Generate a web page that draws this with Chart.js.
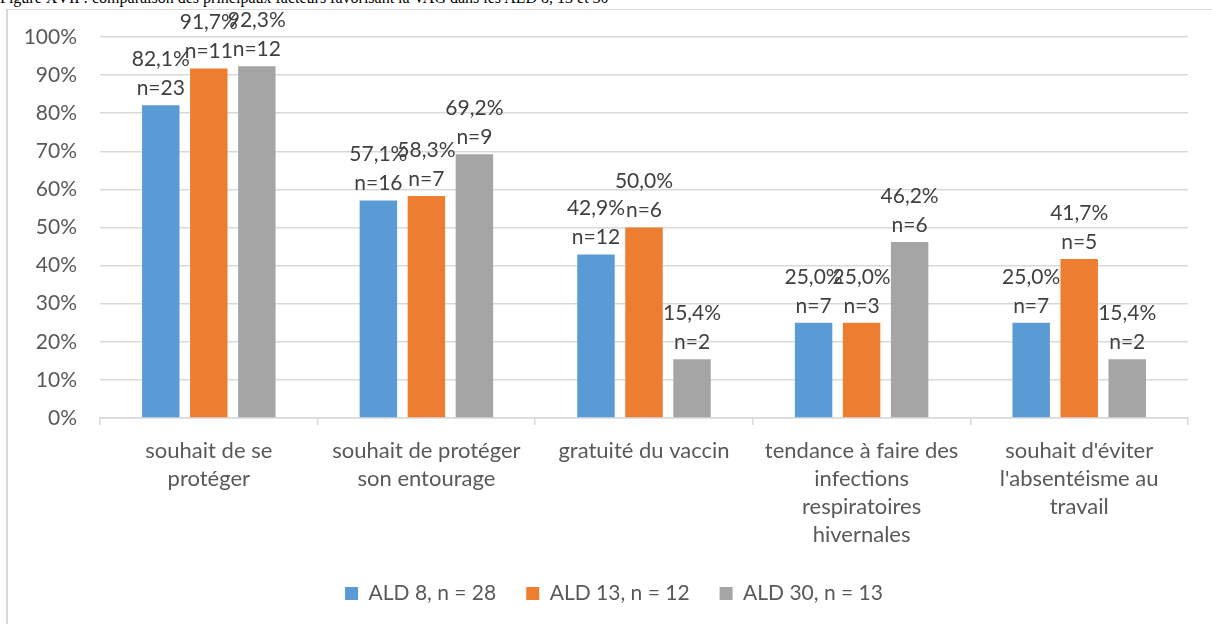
<!DOCTYPE html>
<html lang="fr">
<head>
<meta charset="utf-8">
<title>Figure XVII</title>
<script src="https://cdn.jsdelivr.net/npm/chart.js@4.4.1/dist/chart.umd.min.js"></script>
<style>
    html, body {
        margin: 0;
        padding: 0;
        width: 1212px;
        height: 624px;
        overflow: hidden;
        background: #ffffff;
    }
    .titre {
        position: absolute;
        left: 0;
        top: -11px;
        font-family: "Liberation Serif", "Times New Roman", serif;
        font-size: 16px;
        line-height: 18px;
        color: #000000;
        white-space: nowrap;
    }
    .cadre {
        position: absolute;
        left: 6px;
        top: 9px;
        width: 1300px;
        height: 700px;
        border-left: 2px solid #d9d9d9;
        border-top: 1px solid #d9d9d9;
    }
    #facteursChart {
        position: absolute;
        left: 0;
        top: 0;
    }
</style>
</head>
<body>
<div class="titre">Figure XVII : comparaison des principaux facteurs favorisant la VAG dans les ALD 8, 13 et 30</div>
<div class="cadre"></div>
<canvas id="facteursChart" width="1212" height="624"></canvas>

<script>
// Données
const categories = [
    ['souhait de se', 'protéger'],
    ['souhait de protéger', 'son entourage'],
    ['gratuité du vaccin'],
    ['tendance à faire des', 'infections', 'respiratoires', 'hivernales'],
    ["souhait d'éviter", "l'absentéisme au", 'travail']
];
const seriesNames = ['ALD 8, n = 28', 'ALD 13, n = 12', 'ALD 30, n = 13'];
const ald8Pct = [82.1, 57.1, 42.9, 25.0, 25.0];
const ald13Pct = [91.7, 58.3, 50.0, 25.0, 41.7];
const ald30Pct = [92.3, 69.2, 15.4, 46.2, 15.4];
const ald8N = [23, 16, 12, 7, 7];
const ald13N = [11, 7, 6, 3, 5];
const ald30N = [12, 9, 2, 6, 2];
const yTicks = [0, 10, 20, 30, 40, 50, 60, 70, 80, 90, 100];

const couleurs = ['#5b9bd5', '#ed7d31', '#a5a5a5'];
const police = 'Lato, "Open Sans", sans-serif';

function formatPct(v) {
    return v.toFixed(1).replace('.', ',') + '%';
}

// Étiquettes "xx,x%" / "n=.." au-dessus de chaque barre
const etiquettesPlugin = {
    id: 'etiquettes',
    afterDatasetsDraw(chart) {
        const ctx = chart.ctx;
        const effectifs = [ald8N, ald13N, ald30N];
        ctx.save();
        ctx.font = '21px ' + police;
        ctx.fillStyle = '#404040';
        ctx.textAlign = 'center';
        ctx.textBaseline = 'middle';
        chart.data.datasets.forEach((ds, i) => {
            const meta = chart.getDatasetMeta(i);
            meta.data.forEach((bar, j) => {
                const yN = bar.y - 17;
                ctx.fillText('n=' + effectifs[i][j], bar.x, yN);
                ctx.fillText(formatPct(ds.data[j]), bar.x, yN - 29);
            });
        });
        ctx.restore();
    }
};

// La légende est centrée sur le cadre complet (plus large que la fenêtre)
const decalageLegende = {
    id: 'decalageLegende',
    afterLayout(chart) {
        if (chart.legend) {
            chart.legend.left += 20;
            chart.legend.right += 20;
        }
    }
};

function initChart() {
    const ctx = document.getElementById('facteursChart').getContext('2d');
    const valeurs = [ald8Pct, ald13Pct, ald30Pct];

    new Chart(ctx, {
        type: 'bar',
        data: {
            labels: categories,
            datasets: seriesNames.map((nom, i) => ({
                label: nom,
                data: valeurs[i],
                backgroundColor: couleurs[i],
                borderWidth: 0,
                categoryPercentage: 0.662,
                barPercentage: 0.78
            }))
        },
        options: {
            responsive: false,
            animation: false,
            devicePixelRatio: 1,
            layout: {
                padding: { left: 0, right: 24, top: 37, bottom: 10 }
            },
            plugins: {
                legend: {
                    position: 'bottom',
                    labels: {
                        boxWidth: 13,
                        boxHeight: 13,
                        padding: 30,
                        color: '#595959',
                        font: { family: police, size: 21 }
                    }
                },
                tooltip: { enabled: false }
            },
            scales: {
                x: {
                    grid: {
                        drawOnChartArea: false,
                        drawTicks: true,
                        tickLength: 7,
                        color: '#d9d9d9',
                        lineWidth: 1.5
                    },
                    border: { display: true, color: '#d9d9d9', width: 1.5 },
                    ticks: {
                        color: '#595959',
                        padding: 12,
                        maxRotation: 0,
                        autoSkip: false,
                        font: { family: police, size: 22, lineHeight: 1.27 }
                    },
                    afterFit(scale) {
                        scale.height = 135;
                    }
                },
                y: {
                    min: 0,
                    max: 100,
                    afterBuildTicks(scale) {
                        scale.ticks = yTicks.map(v => ({ value: v }));
                    },
                    grid: {
                        drawTicks: false,
                        color: '#d9d9d9',
                        lineWidth: 1.5
                    },
                    border: { display: false },
                    ticks: {
                        color: '#595959',
                        padding: 23,
                        font: { family: police, size: 21 },
                        callback: v => v + '%'
                    },
                    afterFit(scale) {
                        scale.width = 100;
                    }
                }
            }
        },
        plugins: [etiquettesPlugin, decalageLegende]
    });
}

document.addEventListener('DOMContentLoaded', () => {
    initChart();
});
</script>
</body>
</html>
